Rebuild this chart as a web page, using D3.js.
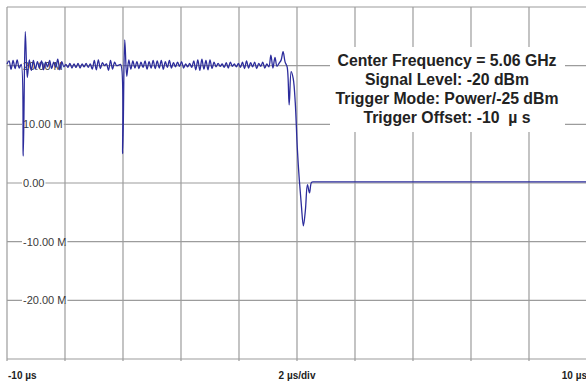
<!DOCTYPE html>
<html>
<head>
<meta charset="utf-8">
<script src="https://cdn.jsdelivr.net/npm/d3@7"></script>
<style>
  body { margin: 0; background: #fff; }
  svg { display: block; font-family: "Liberation Sans", Arial, sans-serif; }
</style>
</head>
<body>
<div id="chart"></div>
<script>
let width = 586;
let height = 388;
let plot = { left: 7, right: 587, top: 7, bottom: 359 };

// trace samples (M), one every 0.07 us from -10 us
let sampleStart = -10;
let sampleStep = 0.07;
let samples = [
  20.3, 20.8, 19.4, 20.9, 19.5, 21.0, 19.6, 20.2, 4.6, 25.8,
  18.0, 21.0, 19.2, 20.9, 19.4, 20.7, 19.6, 20.8, 19.3, 20.6,
  19.8, 20.9, 19.5, 20.6, 19.7, 21.1, 19.3, 20.7, 19.8, 20.2,
  19.7, 20.4, 19.6, 20.3, 19.7, 20.4, 19.6, 20.3, 19.8, 20.4,
  19.7, 20.3, 19.4, 20.9, 19.3, 21.0, 19.5, 20.5, 20.0, 20.3,
  19.2, 20.9, 19.4, 20.6, 20.0, 20.1, 20.2, 5.0, 24.4, 18.2,
  21.0, 19.4, 20.8, 19.6, 20.7, 19.5, 20.6, 19.7, 20.8, 19.4,
  20.7, 19.6, 20.9, 19.5, 20.8, 19.6, 20.9, 19.4, 20.7, 19.7,
  20.9, 19.6, 20.5, 19.8, 20.6, 19.9, 20.7, 19.6, 20.3, 19.8,
  20.4, 19.7, 20.8, 19.3, 21.0, 19.2, 21.1, 19.4, 20.9, 19.3,
  21.0, 19.5, 20.6, 19.8, 20.4, 19.9, 20.3, 19.7, 20.5, 19.6,
  20.6, 19.9, 20.3, 19.8, 20.4, 19.7, 20.6, 19.5, 20.8, 19.6,
  20.5, 19.8, 20.6, 19.5, 20.4, 19.9, 20.6, 19.6, 20.3, 19.8,
  21.8, 19.6, 21.4, 19.9, 20.4, 20.9, 22.4, 20.6, 19.8, 13.3,
  19.0, 17.8, 13.7, 6.0, 0.5, -3.8, -7.3, -4.6, -0.3, -1.7,
  0.1, 0.2, 0.2
];
let traceEnd = [10, 0.2];

let xTicks = [-10, -8, -6, -4, -2, 0, 2, 4, 6, 8, 10];
let yTicks = [-30, -20, -10, 0, 10, 20, 30];
let yLabels = [
  { v: 20, text: "20.00 M" },
  { v: 10, text: "10.00 M" },
  { v: 0, text: "0.00" },
  { v: -10, text: "-10.00 M" },
  { v: -20, text: "-20.00 M" }
];
let xLabels = [
  { t: -10, text: "-10 µs", anchor: "start" },
  { t: 0, text: "2 µs/div", anchor: "middle" },
  { t: 10, text: "10 µs", anchor: "end" }
];
let notes = [
  "Center Frequency = 5.06 GHz",
  "Signal Level: -20 dBm",
  "Trigger Mode: Power/-25 dBm",
  "Trigger Offset: -10  µ s"
];

let svg = d3.select("#chart").append("svg").attr("width", width).attr("height", height);

let xScale = d3.scaleLinear().domain([-10, 10]).range([plot.left, plot.right]);
let yScale = d3.scaleLinear().domain([-30, 30]).range([plot.bottom, plot.top]);

// grid
let grid = svg.append("g").attr("stroke", "#9c9c9c").attr("stroke-width", 1.2);
grid.selectAll(".vline").data(xTicks).enter().append("line")
  .attr("x1", d => xScale(d)).attr("x2", d => xScale(d))
  .attr("y1", plot.top).attr("y2", plot.bottom + 2);
grid.selectAll(".hline").data(yTicks).enter().append("line")
  .attr("x1", plot.left).attr("x2", plot.right)
  .attr("y1", d => yScale(d)).attr("y2", d => yScale(d));

// y labels on white boxes
let yl = svg.append("g");
yl.selectAll("g").data(yLabels).enter().append("g").each(function (d) {
  let g = d3.select(this);
  let rect = g.append("rect").attr("fill", "#fff");
  let t = g.append("text")
    .attr("x", 23).attr("y", yScale(d.v)).attr("dy", "0.35em")
    .attr("font-size", 11).attr("fill", "#3a3a3a")
    .text(d.text);
  let b = t.node().getBBox();
  rect.attr("x", b.x - 1).attr("y", yScale(d.v) - 3).attr("width", b.width + 2).attr("height", 6);
});

// trace
let points = samples.map((v, i) => [sampleStart + i * sampleStep, v]);
points.push(traceEnd);
let line = d3.line()
  .x(d => xScale(d[0]))
  .y(d => yScale(d[1]))
  .curve(d3.curveCatmullRom.alpha(0.5));
svg.append("path").datum(points)
  .attr("d", line)
  .attr("fill", "none")
  .attr("stroke", "#2c2c9c")
  .attr("stroke-width", 1.3)
  .attr("stroke-linejoin", "round");

// x labels
svg.selectAll(".xl").data(xLabels).enter().append("text")
  .attr("x", d => d.anchor === "start" ? xScale(d.t) + 1 : xScale(d.t))
  .attr("y", 379)
  .attr("text-anchor", d => d.anchor)
  .attr("font-size", 10).attr("font-weight", "bold").attr("fill", "#222")
  .text(d => d.text);

// annotation box
svg.append("rect").attr("x", 330).attr("y", 47).attr("width", 235).attr("height", 85).attr("fill", "#fff");
svg.selectAll(".note").data(notes).enter().append("text")
  .attr("x", 447)
  .attr("y", (d, i) => 65.5 + i * 19.2)
  .attr("text-anchor", "middle")
  .attr("font-size", 15.8).attr("font-weight", "bold").attr("fill", "#222")
  .style("white-space", "pre")
  .text(d => d);
</script>
</body>
</html>
